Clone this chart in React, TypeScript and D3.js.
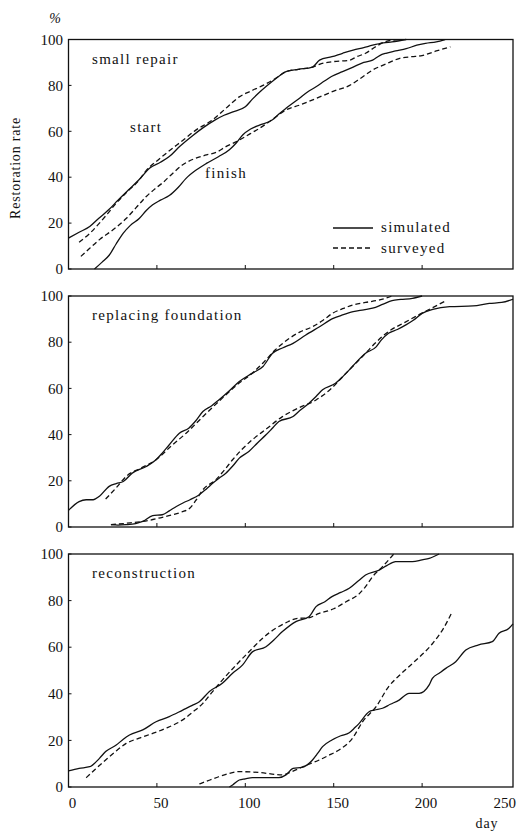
import React from "react";
import * as d3 from "d3";

type P = [number, number];

// ---- small repair ----
const smallStartSim: P[] = [[0,13.5],[6,16],[12,18.5],[17,22],[23,26],[28,30],[34,34.5],[40,39],[46,44],[52,46.5],[57,49],[63,53.5],[70,58],[76,61.5],[83,65],[88,67],[93,68.5],[100,70.7],[104,74],[108,77],[115,81.6],[119,84],[123,86],[130,87],[138,88],[142,91],[149,92.5],[155,94],[161,95.4],[167,96.5],[172,97.5],[178,98.5],[183,99],[191,100]];
const smallStartSur: P[] = [[6,11.7],[12,15.5],[17.5,20],[22,24],[27,28.7],[33,33.5],[40,38.8],[44,43],[49.5,46.8],[57,51.5],[64.6,56],[72,60.5],[81.5,65],[89,70],[96.6,75],[103,77.5],[110,80],[117,83],[123,86],[130,87],[138,88],[143,89.5],[149,90.3],[159,91],[163,92.5],[168,94],[174,97],[179,99],[187,100]];
const smallFinishSim: P[] = [[14.7,0],[19,3],[23,6],[27,11],[31,15.6],[35,19],[40,22],[44,25.5],[47.6,28],[52,30],[57,32],[62,35.5],[66.5,39.5],[72,43],[78,46],[85,49],[91,52],[95,55],[98.5,58.4],[103,61],[108,62.7],[115.4,65],[119,67.5],[123,70],[130.5,74.3],[135,77],[140,79.4],[145,82],[149,84],[155,86],[161,88],[167,90],[172,91],[176,93],[179.5,94],[185,95],[191,96],[197,97.5],[202,98.3],[208,99],[213,100]];
const smallFinishSur: P[] = [[7,5.5],[12,9],[17.5,12.8],[25,17],[32.6,22],[38,26.5],[44,31.6],[49,35],[53,37.4],[58,41],[64.6,45.4],[71,48],[78,49.7],[84,51],[89,53.3],[95,55.5],[100,57.7],[104,59.5],[108,61.3],[115,65],[123,69.3],[131,71.5],[140,74.3],[150,77.5],[159,80],[165,83],[172,86.7],[180,89.5],[187,91.7],[194,92.5],[200,93],[208,95],[216,96.8]];

// ---- replacing foundation ----
const foundStartSim: P[] = [[0,7.2],[6,11],[10,11.8],[14,11.8],[17.5,13.3],[23,17.6],[27,18.8],[31,19.7],[36,23.3],[44,26.2],[49.5,29.1],[53,32],[57,35.6],[62.7,40.6],[68,42.8],[72,46],[76,50],[81,52.5],[85,55],[91,59],[96.6,63],[104,66.6],[110,69.5],[115.4,75.2],[121,77.5],[127,79.5],[134,83],[142,86.7],[149.7,90.3],[155,91.8],[161,93.2],[167,94],[172,94.7],[178,96.5],[183,98],[188,98.5],[194.5,99],[200,100]];
const foundStartSur: P[] = [[21,12.1],[27,17],[32.6,21.9],[41,25.5],[49.5,29.1],[58,35],[66.5,40.6],[77,48.5],[87,55.8],[96,62],[104,66.6],[110,71],[117,76.7],[125,81.7],[131,84.5],[138,86.7],[144,89.5],[149.3,92.5],[155,94.5],[161,96.1],[168,97.2],[176,98.3],[183,100]];
const foundFinishSim: P[] = [[24,1],[28,0.8],[32.6,1],[38,1.5],[42,2.4],[47.6,4.9],[53,5.3],[57,7],[61,8.9],[65,10.5],[68.7,11.8],[74,14],[78,16.5],[81.7,19],[85,21],[89,23.3],[93,26.5],[96.6,29.8],[102,32.7],[107,36.5],[111.7,39.9],[115,42.5],[119,45.7],[127,47.8],[131,50.5],[136,53.6],[140,56.5],[143.7,59.4],[151,62.2],[155,65],[158.8,68],[163,71.5],[168,75.2],[174,78],[177,81],[181,83.9],[186,85.5],[190.8,87.5],[195,89.5],[200,92.5],[206,94.2],[215.6,95.4],[228.8,95.7],[238,96.8],[245,97.2],[251.4,98.6]];
const foundFinishSur: P[] = [[24,1],[35,1.8],[45.8,2.9],[52,4],[59,5.3],[64,6.5],[68.7,8.2],[72,11.5],[76,16.1],[83.4,20.5],[88,24.5],[92.8,29.1],[98,33.5],[104,37.8],[112,42.5],[121,47.8],[130,51.5],[140,55],[148,59.5],[157,66.6],[162,70.5],[168,75.2],[174,80],[181,84.6],[190,88.5],[198,91.8],[206,95],[213.7,98]];

// ---- reconstruction ----
const reconStartSim: P[] = [[0,6.9],[6,8],[12,8.7],[17.5,12.3],[21,15.2],[27,18],[31,20.5],[34.5,22.3],[42,24.5],[49.5,28],[57,30.2],[64.6,33],[70,35],[74,36.6],[79.7,41],[87,44.5],[92.8,48.8],[98.5,52.4],[104,58],[111.7,60.2],[116,63],[121,66.7],[128.6,71],[136,73.1],[140,77.4],[145,79.5],[149,81.7],[154,83.5],[158.8,85.3],[164,88.5],[168,91],[175.7,93.1],[180,95],[185,96.7],[194.5,96.7],[200,97.5],[204,98.1],[209.6,100]];
const reconStartSur: P[] = [[10,4],[15,7.5],[21,11.6],[27,15.5],[32.6,18.7],[40,21],[47.6,23],[56,25.5],[64.6,28.8],[70,32],[76,35.9],[81,40.5],[87,45.9],[95,52.5],[104,59.5],[110,64],[117,68],[123,70.5],[130,72.4],[135,72.5],[141.8,74.5],[150,76.5],[157,79.5],[164.5,83],[168,86],[172,90.3],[177.6,94.6],[184,100]];
const reconFinishSim: P[] = [[91,0],[93,1],[96.6,3],[100,3.5],[104,4],[112,4],[119,4],[123,5.2],[127,8],[132,8.4],[135,9.5],[138,11.6],[141,14.5],[143.7,17.3],[149,20.2],[154,22],[158.8,23.3],[162,25.5],[164.4,27.3],[170,32.3],[173,33],[177.6,33.8],[182,35.5],[187,37.3],[192.6,40.2],[198.3,40.2],[204,43.8],[205.8,46.6],[210,49],[213.4,50.9],[219,53.8],[224.7,58.8],[232,61],[239.7,62.4],[243.5,66],[249,68],[251.4,70]];
const reconFinishSur: P[] = [[74,1.3],[80,3],[85,4.4],[90,5.6],[96.6,6.6],[108,6.2],[121,5.2],[126,6.5],[130.5,8],[136,9.8],[141.8,11.6],[147,13.5],[153,15.9],[160.6,20.9],[166.3,28],[174,34.5],[181,43],[188,48.5],[194.5,53],[206,61.7],[212,68],[217,75.2]];

const xTicks = [0, 50, 100, 150, 200, 250];
const yTicks = [0, 20, 40, 60, 80, 100];

const panels = [
  { top: 39.5, bottom: 269, sim: [smallStartSim, smallFinishSim], sur: [smallStartSur, smallFinishSur], name: "small repair" },
  { top: 296, bottom: 527, sim: [foundStartSim, foundFinishSim], sur: [foundStartSur, foundFinishSur], name: "replacing foundation" },
  { top: 554, bottom: 787, sim: [reconStartSim, reconFinishSim], sur: [reconStartSur, reconFinishSur], name: "reconstruction" },
];

const FONT = "'Liberation Serif', 'Times New Roman', serif";

export default function App() {
  const x = d3.scaleLinear().domain([0, 251.4]).range([68.5, 513]);
  return (
    <svg width={518} height={832} style={{ position: "absolute", left: 0, top: 0, background: "#fff" }} fontFamily={FONT}>
      <rect x={0} y={0} width={518} height={832} fill="#fff" />
      {panels.map((p, i) => {
        const y = d3.scaleLinear().domain([0, 100]).range([p.bottom, p.top]);
        const line = d3.line<P>().x(d => x(d[0])).y(d => y(d[1])).curve(d3.curveMonotoneX);
        return (
          <g key={i}>
            <rect x={x(0)} y={y(100)} width={x(251.4) - x(0)} height={y(0) - y(100)} fill="none" stroke="#111" strokeWidth={1.3} />
            {yTicks.map(t => (
              <g key={t}>
                <line x1={x(0)} x2={x(0) + 3} y1={y(t)} y2={y(t)} stroke="#111" strokeWidth={1} />
                <text x={63} y={y(t)} dy="0.35em" textAnchor="end" fontSize={15} fill="#111">{t}</text>
              </g>
            ))}
            {xTicks.slice(1, 5).map(t => (
              <line key={t} x1={x(t)} x2={x(t)} y1={y(0)} y2={y(0) - 4} stroke="#111" strokeWidth={1} />
            ))}
            {p.sim.map((s, j) => (
              <path key={"s" + j} d={line(s) || ""} fill="none" stroke="#111" strokeWidth={1.3} />
            ))}
            {p.sur.map((s, j) => (
              <path key={"d" + j} d={line(s) || ""} fill="none" stroke="#111" strokeWidth={1.3} strokeDasharray="5,3" />
            ))}
            <text x={92} y={y(100) + 24} fontSize={15} letterSpacing={1.3} fill="#111">{p.name}</text>
          </g>
        );
      })}
      {xTicks.map((t, i) => (
        i === xTicks.length - 1
          ? <text key={t} x={516} y={808} textAnchor="end" fontSize={15} fill="#111">{t}</text>
          : <text key={t} x={x(t) + 4} y={808} textAnchor="middle" fontSize={15} fill="#111">{t}</text>
      ))}
      <text x={487} y={828} textAnchor="middle" fontSize={14} letterSpacing={1} fill="#111">day</text>
      <text x={55} y={23} textAnchor="middle" fontSize={14} fontStyle="italic" fill="#111">%</text>
      <text transform="translate(20,168) rotate(-90)" textAnchor="middle" fontSize={14} letterSpacing={0.8} fill="#111">Restoration rate</text>
      <text x={130} y={132} fontSize={15} letterSpacing={1.3} fill="#111">start</text>
      <text x={205} y={178} fontSize={15} letterSpacing={1.3} fill="#111">finish</text>
      <line x1={333} x2={373} y1={228} y2={228} stroke="#111" strokeWidth={1.3} />
      <text x={381} y={232} fontSize={15} letterSpacing={1.3} fill="#111">simulated</text>
      <line x1={333} x2={373} y1={248} y2={248} stroke="#111" strokeWidth={1.3} strokeDasharray="5,3" />
      <text x={381} y={253} fontSize={15} letterSpacing={1.3} fill="#111">surveyed</text>
    </svg>
  );
}
